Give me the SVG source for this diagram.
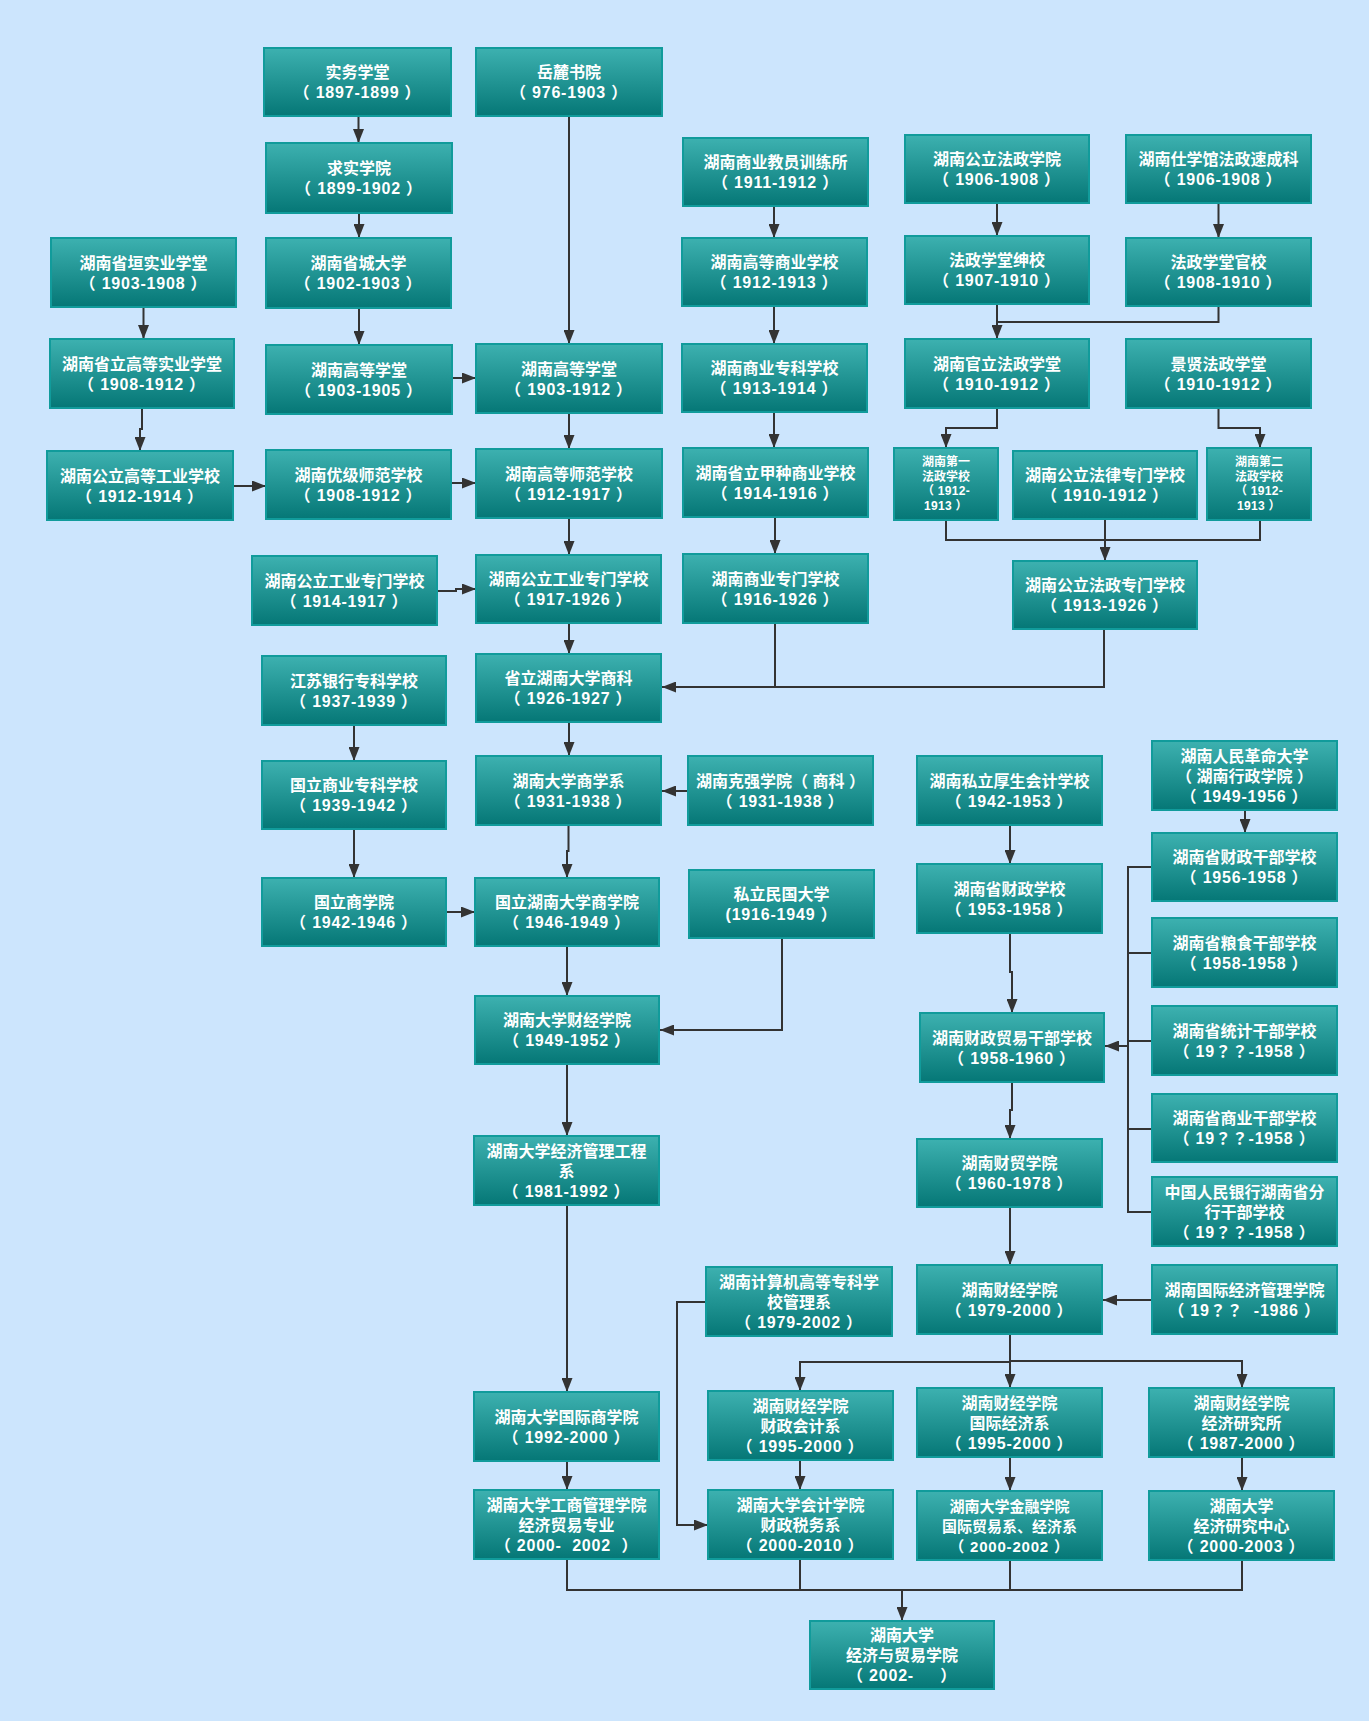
<svg xmlns="http://www.w3.org/2000/svg" width="1369" height="1721" viewBox="0 0 1369 1721">
<defs>
<linearGradient id="g" x1="0" y1="0" x2="0" y2="1">
<stop offset="0" stop-color="#3db1b0"/>
<stop offset="1" stop-color="#057776"/>
</linearGradient>
<marker id="a" markerUnits="userSpaceOnUse" markerWidth="15" markerHeight="11" refX="14" refY="5.5" orient="auto">
<path d="M0,0 L14,5.5 L0,11 z" fill="#333"/>
</marker>
</defs>
<style>
.node rect{fill:url(#g);stroke:#119b9b;stroke-width:2}
.node text{font-family:"Liberation Sans","Noto Sans CJK SC",sans-serif;font-size:16px;font-weight:bold;fill:#fff;text-anchor:middle;dominant-baseline:central}
.node tspan{dominant-baseline:central}
.node tspan.d{font-family:"Liberation Sans","Noto Sans CJK TC",sans-serif;letter-spacing:0.8px}
.node tspan.t{font-family:"Liberation Sans","Noto Sans CJK TC",sans-serif}
.node text.s{font-size:12px}
.node text.s tspan.d{letter-spacing:0.3px}
.node text.m{font-size:15px}
#edges path{fill:none;stroke:#333;stroke-width:2}
#edges path.ar{marker-end:url(#a)}
</style>
<rect x="0" y="0" width="1369" height="1721" fill="#cce5fd"/>
<g id="edges">
<path class="ar" d="M358.5,117 V143"/>
<path class="ar" d="M359,214 V238"/>
<path class="ar" d="M359,309 V345"/>
<path class="ar" d="M569,117 V344"/>
<path class="ar" d="M143.5,308 V339"/>
<path class="ar" d="M142,409 V429 H140 V451"/>
<path class="ar" d="M453,378 H476"/>
<path class="ar" d="M234,486 H266"/>
<path class="ar" d="M452,483 H476"/>
<path class="ar" d="M569,414 V449"/>
<path class="ar" d="M569,519 V555"/>
<path class="ar" d="M438,591 H456 V589 H476"/>
<path class="ar" d="M569,624 V654"/>
<path class="ar" d="M569,723 V756"/>
<path class="ar" d="M354,726 V761"/>
<path class="ar" d="M354,830 V878"/>
<path class="ar" d="M568.5,826 V851 H567 V878"/>
<path class="ar" d="M447,912 H475"/>
<path class="ar" d="M567,947 V996"/>
<path class="ar" d="M567,1065 V1136"/>
<path class="ar" d="M567,1206 V1392"/>
<path class="ar" d="M567,1462 V1490"/>
<path class="ar" d="M688,791 H662"/>
<path class="ar" d="M782,939 V1030 H660"/>
<path class="ar" d="M774,207 V238"/>
<path class="ar" d="M774,307 V344"/>
<path class="ar" d="M774,413 V448"/>
<path class="ar" d="M775,518 V554"/>
<path d="M775,624 V687"/>
<path class="ar" d="M1104,630 V687 H662"/>
<path class="ar" d="M997,204 V236"/>
<path class="ar" d="M1218.5,204 V238"/>
<path class="ar" d="M997,305 V339"/>
<path d="M1218.5,307 V322 H997"/>
<path class="ar" d="M997,409 V428 H946 V448"/>
<path class="ar" d="M1218.5,409 V428 H1260 V448"/>
<path d="M946,521 V540 H1260 V521"/>
<path class="ar" d="M1105,520 V561"/>
<path class="ar" d="M1010,826 V864"/>
<path class="ar" d="M1010,934 V972 H1012 V1013"/>
<path class="ar" d="M1012,1083 V1110 H1010 V1139"/>
<path class="ar" d="M1010,1208 V1265"/>
<path class="ar" d="M1245,811 V833"/>
<path d="M1152,867 H1128 V1212 H1152"/>
<path d="M1128,953 H1152"/>
<path d="M1128,1041 H1152"/>
<path d="M1128,1129 H1152"/>
<path class="ar" d="M1128,1046 H1105"/>
<path class="ar" d="M1152,1300 H1103"/>
<path class="ar" d="M1010,1335 V1388"/>
<path class="ar" d="M1010,1361 H1242 V1388"/>
<path class="ar" d="M1010,1362 H800 V1391"/>
<path class="ar" d="M706,1302 H677 V1525 H708"/>
<path class="ar" d="M800,1461 V1490"/>
<path class="ar" d="M1010,1458 V1491"/>
<path class="ar" d="M1242,1458 V1491"/>
<path d="M567,1560 V1590 H1242 V1561"/>
<path d="M800,1560 V1590"/>
<path d="M1010,1561 V1590"/>
<path class="ar" d="M902,1590 V1621"/>
</g>
<g id="n1" class="node"><rect x="264" y="48" width="187" height="68"/><text><tspan x="357.5" y="72">实务学堂</tspan><tspan class="d" x="357.5" y="92">（ 1897-1899 ）</tspan></text></g>
<g id="n2" class="node"><rect x="476" y="48" width="186" height="68"/><text><tspan x="569" y="72">岳麓书院</tspan><tspan class="d" x="569" y="92">（ 976-1903 ）</tspan></text></g>
<g id="n3" class="node"><rect x="266" y="143" width="186" height="70"/><text><tspan x="359" y="168">求实学院</tspan><tspan class="d" x="359" y="188">（ 1899-1902 ）</tspan></text></g>
<g id="n4" class="node"><rect x="266" y="238" width="185" height="70"/><text><tspan x="358.5" y="263">湖南省城大学</tspan><tspan class="d" x="358.5" y="283">（ 1902-1903 ）</tspan></text></g>
<g id="n5" class="node"><rect x="51" y="238" width="185" height="69"/><text><tspan x="143.5" y="262.5">湖南省垣实业学堂</tspan><tspan class="d" x="143.5" y="282.5">（ 1903-1908 ）</tspan></text></g>
<g id="n6" class="node"><rect x="50" y="339" width="184" height="69"/><text><tspan x="142" y="363.5">湖南省立高等实业学堂</tspan><tspan class="d" x="142" y="383.5">（ 1908-1912 ）</tspan></text></g>
<g id="n7" class="node"><rect x="266" y="345" width="186" height="69"/><text><tspan x="359" y="369.5">湖南高等学堂</tspan><tspan class="d" x="359" y="389.5">（ 1903-1905 ）</tspan></text></g>
<g id="n8" class="node"><rect x="476" y="344" width="186" height="69"/><text><tspan x="569" y="368.5">湖南高等学堂</tspan><tspan class="d" x="569" y="388.5">（ 1903-1912 ）</tspan></text></g>
<g id="n9" class="node"><rect x="47" y="451" width="186" height="69"/><text><tspan x="140" y="475.5">湖南公立高等工业学校</tspan><tspan class="d" x="140" y="495.5">（ 1912-1914 ）</tspan></text></g>
<g id="n10" class="node"><rect x="266" y="450" width="185" height="69"/><text><tspan x="358.5" y="474.5">湖南优级师范学校</tspan><tspan class="d" x="358.5" y="494.5">（ 1908-1912 ）</tspan></text></g>
<g id="n11" class="node"><rect x="476" y="449" width="186" height="69"/><text><tspan x="569" y="473.5">湖南高等师范学校</tspan><tspan class="d" x="569" y="493.5">（ 1912-1917 ）</tspan></text></g>
<g id="n12" class="node"><rect x="252" y="556" width="185" height="69"/><text><tspan x="344.5" y="580.5">湖南公立工业专门学校</tspan><tspan class="d" x="344.5" y="600.5">（ 1914-1917 ）</tspan></text></g>
<g id="n13" class="node"><rect x="476" y="555" width="185" height="68"/><text><tspan x="568.5" y="579">湖南公立工业专门学校</tspan><tspan class="d" x="568.5" y="599">（ 1917-1926 ）</tspan></text></g>
<g id="n14" class="node"><rect x="262" y="656" width="184" height="69"/><text><tspan x="354" y="680.5">江苏银行专科学校</tspan><tspan class="d" x="354" y="700.5">（ 1937-1939 ）</tspan></text></g>
<g id="n15" class="node"><rect x="476" y="654" width="185" height="68"/><text><tspan x="568.5" y="678">省立湖南大学商科</tspan><tspan class="d" x="568.5" y="698">（ 1926-1927 ）</tspan></text></g>
<g id="n16" class="node"><rect x="262" y="761" width="184" height="68"/><text><tspan x="354" y="785">国立商业专科学校</tspan><tspan class="d" x="354" y="805">（ 1939-1942 ）</tspan></text></g>
<g id="n17" class="node"><rect x="476" y="756" width="185" height="69"/><text><tspan x="568.5" y="780.5">湖南大学商学系</tspan><tspan class="d" x="568.5" y="800.5">（ 1931-1938 ）</tspan></text></g>
<g id="n18" class="node"><rect x="262" y="878" width="184" height="68"/><text><tspan x="354" y="902">国立商学院</tspan><tspan class="d" x="354" y="922">（ 1942-1946 ）</tspan></text></g>
<g id="n19" class="node"><rect x="475" y="878" width="184" height="68"/><text><tspan x="567" y="902">国立湖南大学商学院</tspan><tspan class="d" x="567" y="922">（ 1946-1949 ）</tspan></text></g>
<g id="n20" class="node"><rect x="475" y="996" width="184" height="68"/><text><tspan x="567" y="1020">湖南大学财经学院</tspan><tspan class="d" x="567" y="1040">（ 1949-1952 ）</tspan></text></g>
<g id="n21" class="node"><rect x="474" y="1136" width="185" height="69"/><text><tspan x="566.5" y="1150.5">湖南大学经济管理工程</tspan><tspan x="566.5" y="1170.5">系</tspan><tspan class="d" x="566.5" y="1190.5">（ 1981-1992 ）</tspan></text></g>
<g id="n22" class="node"><rect x="474" y="1392" width="185" height="69"/><text><tspan x="566.5" y="1416.5">湖南大学国际商学院</tspan><tspan class="d" x="566.5" y="1436.5">（ 1992-2000 ）</tspan></text></g>
<g id="n23" class="node"><rect x="474" y="1490" width="185" height="69"/><text xml:space="preserve"><tspan x="566.5" y="1504.5">湖南大学工商管理学院</tspan><tspan x="566.5" y="1524.5">经济贸易专业</tspan><tspan class="d" x="566.5" y="1544.5">（ 2000-  2002  ）</tspan></text></g>
<g id="n24" class="node"><rect x="683" y="138" width="185" height="68"/><text><tspan x="775.5" y="162">湖南商业教员训练所</tspan><tspan class="d" x="775.5" y="182">（ 1911-1912 ）</tspan></text></g>
<g id="n25" class="node"><rect x="682" y="238" width="185" height="68"/><text><tspan x="774.5" y="262">湖南高等商业学校</tspan><tspan class="d" x="774.5" y="282">（ 1912-1913 ）</tspan></text></g>
<g id="n26" class="node"><rect x="682" y="344" width="185" height="68"/><text><tspan x="774.5" y="368">湖南商业专科学校</tspan><tspan class="d" x="774.5" y="388">（ 1913-1914 ）</tspan></text></g>
<g id="n27" class="node"><rect x="683" y="448" width="185" height="69"/><text><tspan x="775.5" y="472.5">湖南省立甲种商业学校</tspan><tspan class="d" x="775.5" y="492.5">（ 1914-1916 ）</tspan></text></g>
<g id="n28" class="node"><rect x="683" y="554" width="185" height="69"/><text><tspan x="775.5" y="578.5">湖南商业专门学校</tspan><tspan class="d" x="775.5" y="598.5">（ 1916-1926 ）</tspan></text></g>
<g id="n29" class="node"><rect x="688" y="756" width="185" height="69"/><text><tspan class="t" x="780.5" y="780.5">湖南克强学院（ 商科 ）</tspan><tspan class="d" x="780.5" y="800.5">（ 1931-1938 ）</tspan></text></g>
<g id="n30" class="node"><rect x="689" y="870" width="185" height="68"/><text><tspan x="781.5" y="894">私立民国大学</tspan><tspan class="d" x="781.5" y="914">(1916-1949 ）</tspan></text></g>
<g id="n31" class="node"><rect x="706" y="1267" width="186" height="69"/><text><tspan x="799" y="1281.5">湖南计算机高等专科学</tspan><tspan x="799" y="1301.5">校管理系</tspan><tspan class="d" x="799" y="1321.5">（ 1979-2002 ）</tspan></text></g>
<g id="n32" class="node"><rect x="708" y="1391" width="185" height="69"/><text><tspan x="800.5" y="1405.5">湖南财经学院</tspan><tspan x="800.5" y="1425.5">财政会计系</tspan><tspan class="d" x="800.5" y="1445.5">（ 1995-2000 ）</tspan></text></g>
<g id="n33" class="node"><rect x="708" y="1490" width="185" height="69"/><text><tspan x="800.5" y="1504.5">湖南大学会计学院</tspan><tspan x="800.5" y="1524.5">财政税务系</tspan><tspan class="d" x="800.5" y="1544.5">（ 2000-2010 ）</tspan></text></g>
<g id="n34" class="node"><rect x="905" y="135" width="184" height="68"/><text><tspan x="997" y="159">湖南公立法政学院</tspan><tspan class="d" x="997" y="179">（ 1906-1908 ）</tspan></text></g>
<g id="n35" class="node"><rect x="905" y="236" width="184" height="68"/><text><tspan x="997" y="260">法政学堂绅校</tspan><tspan class="d" x="997" y="280">（ 1907-1910 ）</tspan></text></g>
<g id="n36" class="node"><rect x="905" y="339" width="184" height="69"/><text><tspan x="997" y="363.5">湖南官立法政学堂</tspan><tspan class="d" x="997" y="383.5">（ 1910-1912 ）</tspan></text></g>
<g id="n37" class="node"><rect x="894" y="448" width="104" height="72"/><text class="s"><tspan x="946" y="462.25">湖南第一</tspan><tspan x="946" y="476.75">法政学校</tspan><tspan class="d" x="946" y="491.25">（ 1912-</tspan><tspan class="d" x="946" y="505.75">1913 ）</tspan></text></g>
<g id="n38" class="node"><rect x="1013" y="451" width="184" height="68"/><text><tspan x="1105" y="475">湖南公立法律专门学校</tspan><tspan class="d" x="1105" y="495">（ 1910-1912 ）</tspan></text></g>
<g id="n39" class="node"><rect x="1013" y="561" width="184" height="68"/><text><tspan x="1105" y="585">湖南公立法政专门学校</tspan><tspan class="d" x="1105" y="605">（ 1913-1926 ）</tspan></text></g>
<g id="n40" class="node"><rect x="917" y="756" width="185" height="69"/><text><tspan x="1009.5" y="780.5">湖南私立厚生会计学校</tspan><tspan class="d" x="1009.5" y="800.5">（ 1942-1953 ）</tspan></text></g>
<g id="n41" class="node"><rect x="917" y="864" width="185" height="69"/><text><tspan x="1009.5" y="888.5">湖南省财政学校</tspan><tspan class="d" x="1009.5" y="908.5">（ 1953-1958 ）</tspan></text></g>
<g id="n42" class="node"><rect x="920" y="1013" width="184" height="69"/><text><tspan x="1012" y="1037.5">湖南财政贸易干部学校</tspan><tspan class="d" x="1012" y="1057.5">（ 1958-1960 ）</tspan></text></g>
<g id="n43" class="node"><rect x="917" y="1139" width="185" height="68"/><text><tspan x="1009.5" y="1163">湖南财贸学院</tspan><tspan class="d" x="1009.5" y="1183">（ 1960-1978 ）</tspan></text></g>
<g id="n44" class="node"><rect x="917" y="1265" width="185" height="69"/><text><tspan x="1009.5" y="1289.5">湖南财经学院</tspan><tspan class="d" x="1009.5" y="1309.5">（ 1979-2000 ）</tspan></text></g>
<g id="n45" class="node"><rect x="917" y="1388" width="185" height="69"/><text><tspan x="1009.5" y="1402.5">湖南财经学院</tspan><tspan x="1009.5" y="1422.5">国际经济系</tspan><tspan class="d" x="1009.5" y="1442.5">（ 1995-2000 ）</tspan></text></g>
<g id="n46" class="node"><rect x="917" y="1491" width="185" height="69"/><text class="m"><tspan x="1009.5" y="1505.5">湖南大学金融学院</tspan><tspan x="1009.5" y="1525.5">国际贸易系、经济系</tspan><tspan class="d" x="1009.5" y="1545.5">（ 2000-2002 ）</tspan></text></g>
<g id="n47" class="node"><rect x="1126" y="135" width="185" height="68"/><text><tspan x="1218.5" y="159">湖南仕学馆法政速成科</tspan><tspan class="d" x="1218.5" y="179">（ 1906-1908 ）</tspan></text></g>
<g id="n48" class="node"><rect x="1126" y="238" width="185" height="68"/><text><tspan x="1218.5" y="262">法政学堂官校</tspan><tspan class="d" x="1218.5" y="282">（ 1908-1910 ）</tspan></text></g>
<g id="n49" class="node"><rect x="1126" y="339" width="185" height="69"/><text><tspan x="1218.5" y="363.5">景贤法政学堂</tspan><tspan class="d" x="1218.5" y="383.5">（ 1910-1912 ）</tspan></text></g>
<g id="n50" class="node"><rect x="1207" y="448" width="104" height="72"/><text class="s"><tspan x="1259" y="462.25">湖南第二</tspan><tspan x="1259" y="476.75">法政学校</tspan><tspan class="d" x="1259" y="491.25">（ 1912-</tspan><tspan class="d" x="1259" y="505.75">1913 ）</tspan></text></g>
<g id="n51" class="node"><rect x="1152" y="741" width="185" height="69"/><text><tspan x="1244.5" y="755.5">湖南人民革命大学</tspan><tspan class="t" x="1244.5" y="775.5">（ 湖南行政学院 ）</tspan><tspan class="d" x="1244.5" y="795.5">（ 1949-1956 ）</tspan></text></g>
<g id="n52" class="node"><rect x="1152" y="833" width="185" height="68"/><text><tspan x="1244.5" y="857">湖南省财政干部学校</tspan><tspan class="d" x="1244.5" y="877">（ 1956-1958 ）</tspan></text></g>
<g id="n53" class="node"><rect x="1152" y="918" width="185" height="69"/><text><tspan x="1244.5" y="942.5">湖南省粮食干部学校</tspan><tspan class="d" x="1244.5" y="962.5">（ 1958-1958 ）</tspan></text></g>
<g id="n54" class="node"><rect x="1152" y="1006" width="185" height="69"/><text><tspan x="1244.5" y="1030.5">湖南省统计干部学校</tspan><tspan class="d" x="1244.5" y="1050.5">（ 19？？-1958 ）</tspan></text></g>
<g id="n55" class="node"><rect x="1152" y="1094" width="185" height="68"/><text><tspan x="1244.5" y="1118">湖南省商业干部学校</tspan><tspan class="d" x="1244.5" y="1138">（ 19？？-1958 ）</tspan></text></g>
<g id="n56" class="node"><rect x="1152" y="1177" width="185" height="69"/><text><tspan x="1244.5" y="1191.5">中国人民银行湖南省分</tspan><tspan x="1244.5" y="1211.5">行干部学校</tspan><tspan class="d" x="1244.5" y="1231.5">（ 19？？-1958 ）</tspan></text></g>
<g id="n57" class="node"><rect x="1152" y="1265" width="185" height="69"/><text xml:space="preserve"><tspan x="1244.5" y="1289.5">湖南国际经济管理学院</tspan><tspan class="d" x="1244.5" y="1309.5">（ 19？？  -1986 ）</tspan></text></g>
<g id="n58" class="node"><rect x="1149" y="1388" width="185" height="69"/><text><tspan x="1241.5" y="1402.5">湖南财经学院</tspan><tspan x="1241.5" y="1422.5">经济研究所</tspan><tspan class="d" x="1241.5" y="1442.5">（ 1987-2000 ）</tspan></text></g>
<g id="n59" class="node"><rect x="1149" y="1491" width="185" height="69"/><text><tspan x="1241.5" y="1505.5">湖南大学</tspan><tspan x="1241.5" y="1525.5">经济研究中心</tspan><tspan class="d" x="1241.5" y="1545.5">（ 2000-2003 ）</tspan></text></g>
<g id="n60" class="node"><rect x="810" y="1621" width="184" height="68"/><text xml:space="preserve"><tspan x="902" y="1635">湖南大学</tspan><tspan x="902" y="1655">经济与贸易学院</tspan><tspan class="d" x="902" y="1675">（ 2002-     ）</tspan></text></g>
</svg>
